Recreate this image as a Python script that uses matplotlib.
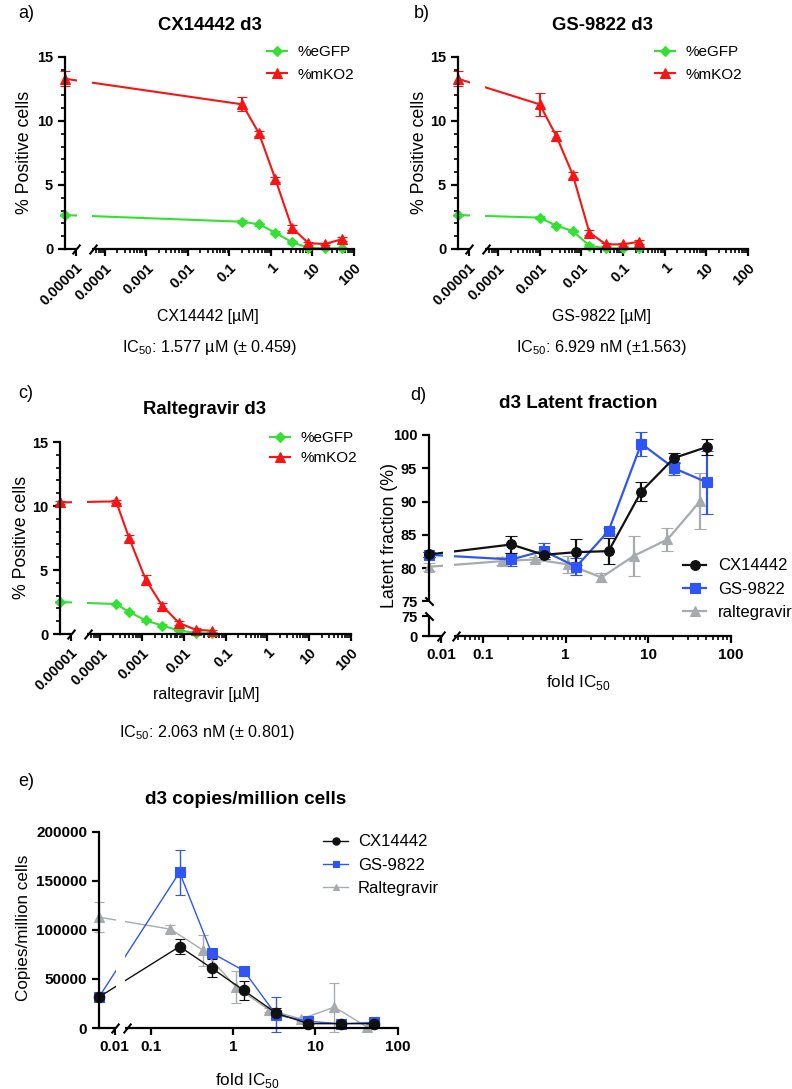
import numpy as np
import matplotlib
matplotlib.use("Agg")
import matplotlib.pyplot as plt
from matplotlib.patches import Rectangle

plt.rcParams["font.family"] = ["Liberation Sans", "DejaVu Sans"]
plt.rcParams["mathtext.fontset"] = "custom"
plt.rcParams["mathtext.rm"] = "Liberation Sans"

W, H = 792, 1089

# ---- data -------------------------------------------------------------
# untreated control is drawn on the y axis, left of the axis break
CTRL_AC = 5.5e-6
CTRL_D = 0.00716
CTRL_E = 0.00647

# a) CX14442 [uM]
cx_conc = [CTRL_AC, 0.2048, 0.512, 1.28, 3.2, 8.0, 20.0, 50.0]
a_egfp = [2.65, 2.13, 1.93, 1.28, 0.52, 0.10, 0.05, 0.05]
a_egfp_err = [0.1, 0.1, 0.1, 0.1, 0.1, 0.05, 0.05, 0.05]
a_mko2 = [13.3, 11.3, 9.05, 5.45, 1.66, 0.45, 0.39, 0.76]
a_mko2_err = [0.6, 0.55, 0.2, 0.2, 0.2, 0.1, 0.1, 0.15]

# b) GS-9822 [uM]
gs_conc = [CTRL_AC, 0.001, 0.0025, 0.00625, 0.0156, 0.039, 0.0977, 0.244]
b_egfp = [2.65, 2.45, 1.82, 1.40, 0.26, 0.05, 0.05, 0.05]
b_egfp_err = [0.1, 0.1, 0.1, 0.1, 0.1, 0.05, 0.05, 0.05]
b_mko2 = [13.3, 11.3, 8.83, 5.78, 1.28, 0.36, 0.36, 0.57]
b_mko2_err = [0.6, 0.9, 0.4, 0.2, 0.2, 0.1, 0.1, 0.15]

# c) raltegravir [uM]
ral_conc = [CTRL_AC, 0.00024, 0.000492, 0.00123, 0.00307, 0.00768, 0.0192, 0.048]
c_egfp = [2.50, 2.34, 1.72, 1.06, 0.65, 0.28, 0.08, 0.05]
c_egfp_err = [0.1, 0.1, 0.1, 0.1, 0.1, 0.05, 0.05, 0.05]
c_mko2 = [10.28, 10.36, 7.5, 4.24, 2.2, 0.86, 0.33, 0.25]
c_mko2_err = [0.1, 0.1, 0.2, 0.4, 0.2, 0.15, 0.1, 0.1]

# d) latent fraction (%) vs fold IC50
d_cx_fold = [CTRL_D, 0.22, 0.54, 1.34, 3.3, 8.2, 20.5, 51.0]
d_cx = [82.05, 83.55, 82.0, 82.4, 82.55, 91.5, 96.55, 98.2]
d_cx_err = [0.4, 1.3, 0.4, 2.0, 1.9, 1.4, 0.8, 1.2]
d_gs_fold = [CTRL_D, 0.22, 0.54, 1.34, 3.3, 8.2, 20.5, 51.0]
d_gs = [82.0, 81.3, 82.6, 80.2, 85.6, 98.7, 95.0, 92.9]
d_gs_err = [0.4, 1.0, 1.2, 1.3, 0.4, 1.8, 1.0, 4.7]
d_ral_fold = [CTRL_D, 0.17, 0.43, 1.07, 2.7, 6.7, 17.0, 42.6]
d_ral = [80.2, 81.05, 81.3, 80.55, 78.6, 81.85, 84.3, 90.1]
d_ral_err = [0.6, 0.6, 0.4, 1.3, 0.7, 3.0, 1.8, 4.2]

# e) copies / million cells vs fold IC50
e_cx_fold = [CTRL_E, 0.22, 0.54, 1.34, 3.3, 8.2, 20.5, 51.0]
e_cx = [31500, 82900, 61000, 38200, 15200, 4400, 4400, 4400]
e_cx_err = [3000, 7500, 9500, 9500, 5000, 1500, 1000, 1000]
e_gs_fold = [CTRL_E, 0.22, 0.54, 1.34, 3.3, 8.2, 20.5, 51.0]
e_gs = [31500, 158500, 76500, 58300, 13500, 6700, 4400, 5700]
e_gs_err = [3000, 23000, 3000, 2000, 18000, 1500, 1000, 1000]
e_ral_fold = [CTRL_E, 0.17, 0.43, 1.07, 2.7, 6.7, 17.0, 42.6]
e_ral = [112800, 100600, 78900, 41700, 18600, 9100, 21300, 1000]
e_ral_err = [15000, 4000, 16000, 16000, 2000, 1500, 25000, 500]

AC_TICKS = [1e-5, 1e-4, 1e-3, 1e-2, 1e-1, 1, 10, 100]
AC_LABELS = ["0.00001", "0.0001", "0.001", "0.01", "0.1", "1", "10", "100"]
FOLD_TICKS = [0.01, 0.1, 1, 10, 100]
FOLD_LABELS = ["0.01", "0.1", "1", "10", "100"]
D_YTICKS = [69.8, 72.8, 75, 80, 85, 90, 95, 100]
D_YLABELS = ["0", "75", "75", "80", "85", "90", "95", "100"]
E_YTICKS = [0, 50000, 100000, 150000, 200000]

GREEN = "#35E035"
RED = "#F81414"
BLUE = "#2F56F5"
GRAY = "#A6ABAE"
BLACK = "#111111"


def broken_log(xl, xr, gap):
    """Log scale with the stretch between xl and xr squeezed into `gap` decades."""
    L, R = np.log10(xl), np.log10(xr)
    d = R - gap - L

    def fwd(x):
        lx = np.log10(np.clip(np.asarray(x, float), 1e-12, None))
        mid = R - gap + (lx - L) * gap / (R - L)
        return np.where(lx >= R, lx, np.where(lx <= L, lx + d, mid))

    def inv(u):
        u = np.asarray(u, float)
        mid = L + (u - (R - gap)) * (R - L) / gap
        return 10 ** np.where(u >= R, u, np.where(u <= R - gap, u - d, mid))

    return fwd, inv


def new_axes(fig, left, right, top, bottom):
    return fig.add_axes([left / W, 1 - bottom / H, (right - left) / W, (bottom - top) / H])


def ftext(fig, x, y, s, **kw):
    kw.setdefault("ha", "center")
    kw.setdefault("va", "center")
    fig.text(x / W, 1 - y / H, s, **kw)


def style_axes(ax):
    for side in ("top", "right"):
        ax.spines[side].set_visible(False)
    for side in ("left", "bottom"):
        ax.spines[side].set_linewidth(1.6)
    ax.tick_params(which="major", direction="out", length=5, width=1.6)
    ax.tick_params(which="minor", direction="out", length=3, width=1.2)
    for lab in ax.get_xticklabels() + ax.get_yticklabels():
        lab.set_fontweight("bold")


def x_break(ax, xl, xr, gap, inset, ms):
    fwd, inv = broken_log(xl, xr, gap)
    R = np.log10(xr)
    a = inv(R - gap + inset)
    b = inv(R - inset)
    ax.add_patch(Rectangle((a, -0.025), b - a, 1.03, transform=ax.get_xaxis_transform(),
                           facecolor="white", edgecolor="none", zorder=2.6, clip_on=False))
    ax.plot([xl, xr], [0, 0], transform=ax.get_xaxis_transform(), linestyle="none",
            marker=[(-0.8, -1), (0.8, 1)], markersize=ms, markeredgewidth=1.5,
            color="black", clip_on=False, zorder=3)


def series(ax, x, y, err, color, marker, ms, lw, cap):
    c = ax.errorbar(x, y, yerr=err, color=color, marker=marker, markersize=ms, linewidth=lw,
                    elinewidth=lw, capsize=cap, capthick=lw, markeredgewidth=0.8)
    for art in c.lines[1] + c.lines[2] + (c.lines[0],):
        art.set_clip_on(False)
    return c[0]


fig = plt.figure(figsize=(W / 100, H / 100), dpi=100)

# ---- panels a-c: dose response ------------------------------------------
AC_XL, AC_XR, AC_GAP = 1e-5, 5.1e-5, 0.41
dose_panels = [
    ("a)", "CX14442 d3", "CX14442 [µM]", r"IC$_\mathregular{50}$: 1.577 µM (± 0.459)",
     (65, 354, 57, 249), cx_conc, a_egfp, a_egfp_err, a_mko2, a_mko2_err,
     (26, 13), (210, 26), (208, 316), (210, 347), (25, 152), (267, 63.5), 0.55),
    ("b)", "GS-9822 d3", "GS-9822 [µM]", r"IC$_\mathregular{50}$: 6.929 nM (±1.563)",
     (458, 748, 57, 249), gs_conc, b_egfp, b_egfp_err, b_mko2, b_mko2_err,
     (422, 13), (602, 26), (602, 316), (602, 347), (419, 152), (655, 63.5), 0.55),
    ("c)", "Raltegravir d3", "raltegravir [µM]", r"IC$_\mathregular{50}$: 2.063 nM (± 0.801)",
     (60, 351, 442, 634), ral_conc, c_egfp, c_egfp_err, c_mko2, c_mko2_err,
     (26, 393), (205, 410), (206, 695), (207, 733), (22, 537), (270, 448), 0.38),
]

for (letter, title, xlabel, ic50, box, conc, egfp, egfp_err, mko2, mko2_err,
     p_letter, p_title, p_xlab, p_ic50, p_ylab, p_leg, spacing) in dose_panels:
    ax = new_axes(fig, *box)
    ax.set_xscale("function", functions=broken_log(AC_XL, AC_XR, AC_GAP))
    h1 = series(ax, conc, egfp, egfp_err, GREEN, "D", 5, 1.5, 3.5)
    h2 = series(ax, conc, mko2, mko2_err, RED, "^", 6.5, 1.5, 3.5)
    ax.set_xlim(CTRL_AC, 100)
    ax.set_ylim(0, 15)
    ax.set_xticks(AC_TICKS)
    ax.set_xticklabels(AC_LABELS, rotation=45, ha="right", rotation_mode="anchor", fontsize=10.7)
    ax.set_xticks([m * 10.0 ** k for k in range(-5, 2) for m in range(2, 10)
                   if m * 10.0 ** k > AC_XR], minor=True)
    ax.set_yticks([0, 5, 10, 15])
    ax.set_yticks([v for v in range(1, 15) if v % 5], minor=True)
    ax.tick_params(axis="y", labelsize=10.5)
    style_axes(ax)
    x_break(ax, AC_XL, AC_XR, AC_GAP, 0.03, 7)
    fig.legend([h1, h2], ["%eGFP", "%mKO2"], loc="center left",
               bbox_to_anchor=(p_leg[0] / W, 1 - p_leg[1] / H), frameon=False,
               fontsize=11, handlelength=1.3, handletextpad=0.7, labelspacing=spacing,
               borderpad=0, borderaxespad=0)
    ftext(fig, *p_letter, letter, fontsize=13)
    ftext(fig, *p_title, title, fontsize=13.3, fontweight="bold")
    ftext(fig, *p_xlab, xlabel, fontsize=11.4)
    ftext(fig, *p_ic50, ic50, fontsize=11.6)
    ftext(fig, *p_ylab, "% Positive cells", fontsize=12.8, rotation=90)

# ---- panel d: latent fraction --------------------------------------------
D_XL, D_XR, D_GAP = 0.01, 0.047, 0.182
ax = new_axes(fig, 429, 731, 435, 636)
ax.set_xscale("function", functions=broken_log(D_XL, D_XR, D_GAP))
hg = series(ax, d_ral_fold, d_ral, d_ral_err, GRAY, "^", 7, 1.6, 4)
hb = series(ax, d_gs_fold, d_gs, d_gs_err, BLUE, "s", 6.5, 1.6, 4)
hk = series(ax, d_cx_fold, d_cx, d_cx_err, BLACK, "o", 7, 1.6, 4)
ax.set_xlim(CTRL_D, 100)
ax.set_ylim(69.8, 100)
ax.set_xticks(FOLD_TICKS)
ax.set_xticklabels(FOLD_LABELS, fontsize=11)
ax.set_xticks([m * 10.0 ** k for k in range(-2, 2) for m in range(2, 10)
               if m * 10.0 ** k > D_XR], minor=True)
ax.set_yticks(D_YTICKS)
ax.set_yticklabels(D_YLABELS, fontsize=10.5)
style_axes(ax)
x_break(ax, D_XL, D_XR, D_GAP, 0.02, 7)
ax.add_patch(Rectangle((-0.015, 72.95), 0.022, 1.9, transform=ax.get_yaxis_transform(),
                       facecolor="white", edgecolor="none", zorder=2.6, clip_on=False))
ax.plot([0, 0], [72.8, 75], transform=ax.get_yaxis_transform(), linestyle="none",
        marker=[(-1, 1), (1, -1)], markersize=6, markeredgewidth=1.5, color="black",
        clip_on=False, zorder=3)
fig.legend([hk, hb, hg], ["CX14442", "GS-9822", "raltegravir"], loc="center left",
           bbox_to_anchor=(683 / W, 1 - 589 / H), frameon=False, fontsize=12,
           handlelength=1.4, handletextpad=0.7, labelspacing=0.48, borderpad=0,
           borderaxespad=0)
ftext(fig, 418, 395, "d)", fontsize=13)
ftext(fig, 578, 403, "d3 Latent fraction", fontsize=13.6, fontweight="bold")
ftext(fig, 578, 683, r"fold IC$_\mathregular{50}$", fontsize=12.3)
ftext(fig, 390, 535, "Latent fraction (%)", fontsize=12.8, rotation=90)

# ---- panel e: copies per million cells -----------------------------------
E_XL, E_XR, E_GAP = 0.01, 0.05, 0.15
ax = new_axes(fig, 99, 397.5, 831.5, 1028)
ax.set_xscale("function", functions=broken_log(E_XL, E_XR, E_GAP))
hg = series(ax, e_ral_fold, e_ral, e_ral_err, GRAY, "^", 7, 1.0, 3.5)
hb = series(ax, e_gs_fold, e_gs, e_gs_err, BLUE, "s", 7, 1.0, 3.5)
hk = series(ax, e_cx_fold, e_cx, e_cx_err, BLACK, "o", 7.5, 1.0, 3.5)
ax.set_xlim(CTRL_E, 100)
ax.set_ylim(0, 200000)
ax.set_xticks(FOLD_TICKS)
ax.set_xticklabels(FOLD_LABELS, fontsize=11)
ax.set_xticks([], minor=True)
ax.set_yticks(E_YTICKS)
ax.set_yticklabels([str(v) for v in E_YTICKS], fontsize=11)
style_axes(ax)
x_break(ax, E_XL, E_XR, E_GAP, 0.02, 7)
fig.legend([hk, hb, hg], ["CX14442", "GS-9822", "Raltegravir"], loc="center left",
           bbox_to_anchor=(323 / W, 1 - 865 / H), frameon=False, fontsize=12,
           handlelength=1.5, handletextpad=0.6, labelspacing=0.48, borderpad=0,
           borderaxespad=0, markerscale=0.7)
ftext(fig, 26, 781, "e)", fontsize=13)
ftext(fig, 246, 799, "d3 copies/million cells", fontsize=13.6, fontweight="bold")
ftext(fig, 247, 1080, r"fold IC$_\mathregular{50}$", fontsize=12.3)
ftext(fig, 24, 928, "Copies/million cells", fontsize=12.3, rotation=90)

fig.savefig("out.png", dpi=100)
